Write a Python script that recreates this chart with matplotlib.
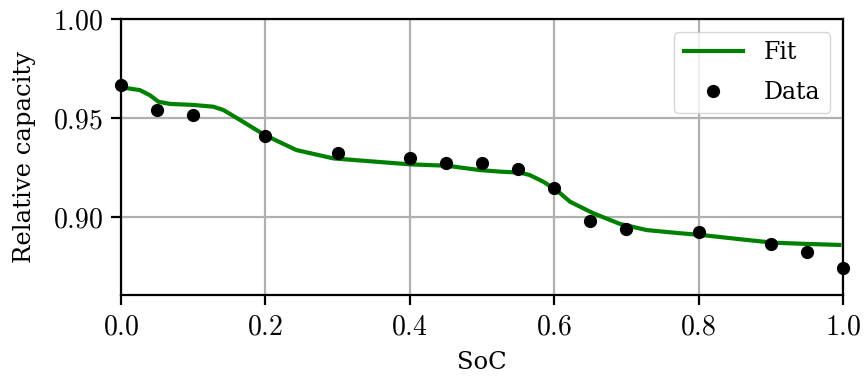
import matplotlib
matplotlib.use("Agg")
import matplotlib.pyplot as plt
from matplotlib.ticker import FuncFormatter

# Measured relative capacity at each state of charge
soc_data = [0.0, 0.05, 0.10, 0.20, 0.30, 0.40, 0.45, 0.50, 0.55, 0.60,
            0.65, 0.70, 0.80, 0.90, 0.95, 1.00]
cap_data = [0.9667, 0.9540, 0.9515, 0.9410, 0.9323, 0.9300, 0.9274, 0.9274,
            0.9242, 0.9148, 0.8981, 0.8941, 0.8926, 0.8862, 0.8822, 0.8741]

# Fitted curve
soc_fit = [0.0, 0.026, 0.040, 0.052, 0.068, 0.100, 0.128, 0.142, 0.169, 0.199,
           0.243, 0.294, 0.350, 0.400, 0.451, 0.497, 0.525, 0.553, 0.566,
           0.585, 0.604, 0.622, 0.654, 0.691, 0.728, 0.774, 0.804, 0.867,
           0.904, 0.950, 0.995]
cap_fit = [0.9655, 0.9641, 0.9615, 0.9582, 0.9571, 0.9566, 0.9557, 0.9540,
           0.9481, 0.9414, 0.9338, 0.9296, 0.9280, 0.9266, 0.9259, 0.9237,
           0.9229, 0.9224, 0.9212, 0.9178, 0.9133, 0.9077, 0.9019, 0.8965,
           0.8934, 0.8918, 0.8909, 0.8884, 0.8870, 0.8864, 0.8859]

plt.rcParams["font.family"] = ["DejaVu Serif"]
plt.rcParams["mathtext.fontset"] = "cm"
plt.rcParams["font.size"] = 17

fig = plt.figure(figsize=(8.67, 3.78), dpi=100)
ax = fig.add_axes([121 / 867, 1 - 295 / 378, (843 - 121) / 867, (295 - 19) / 378])

ax.plot(soc_fit, cap_fit, color="green", lw=3, label="Fit", zorder=3)
ax.plot(soc_data, cap_data, "o", color="black", ms=8.5, label="Data",
        zorder=4, clip_on=False)

ax.set_xlim(0.0, 1.0)
ax.set_ylim(0.8606, 1.0)
ax.set_xticks([0.0, 0.2, 0.4, 0.6, 0.8, 1.0])
ax.set_yticks([0.90, 0.95, 1.00])
ax.xaxis.set_major_formatter(FuncFormatter(lambda v, p: f"${v:.1f}$"))
ax.yaxis.set_major_formatter(FuncFormatter(lambda v, p: f"${v:.2f}$"))
ax.tick_params(labelsize=20, width=1.6, length=7, pad=6)

ax.grid(True, color="#b0b0b0", lw=1.6)
ax.set_axisbelow(True)
for s in ax.spines.values():
    s.set_linewidth(1.6)

ax.set_xlabel("SoC", fontsize=17.5, labelpad=8)
ax.set_ylabel("Relative capacity", fontsize=17.5, labelpad=12)

ax.legend(loc="upper right", fontsize=17, framealpha=0.8, handlelength=2.5,
          handletextpad=0.9, labelspacing=0.7, borderaxespad=0.55)

fig.savefig("out.png", dpi=100)
